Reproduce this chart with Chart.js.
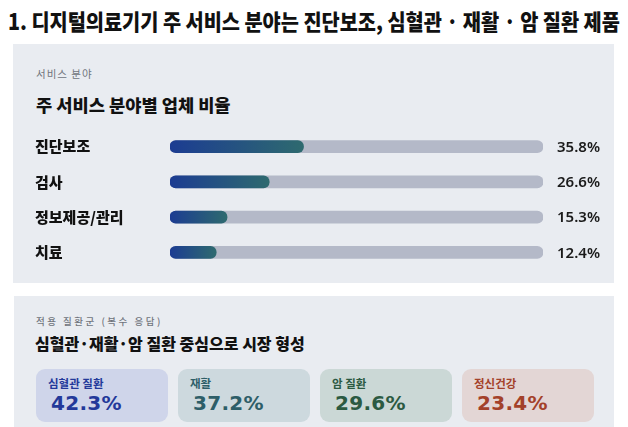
<!DOCTYPE html>
<html><head><meta charset="utf-8">
<script src="https://cdn.jsdelivr.net/npm/chart.js@4/dist/chart.umd.min.js"></script>
<style>
html,body{margin:0;padding:0;background:#fff;width:628px;height:427px;overflow:hidden;font-family:"Noto Sans CJK KR","Noto Sans",sans-serif;}
.abs{position:absolute;white-space:nowrap;}
#title{left:8px;top:6px;font-size:22px;font-weight:900;color:#111;line-height:28px;transform-origin:left center;}
.panel{position:absolute;background:#e9ecf1;}
#p1{left:13px;top:44px;width:601px;height:239px;}
#p2{left:14px;top:296px;width:600px;height:131px;}
.sub{font-size:10.5px;color:#70747c;letter-spacing:1px;}
.head{font-size:17px;font-weight:800;color:#111;transform-origin:left center;}
.card{position:absolute;top:369px;width:132px;height:53px;border-radius:9px;}
.card .lab{position:absolute;left:12px;top:6px;font-size:11.5px;font-weight:700;}
.card .val{position:absolute;left:15px;top:22px;font-family:"DejaVu Sans",sans-serif;font-size:20px;font-weight:700;letter-spacing:0.3px;}
#cv{position:absolute;left:0;top:129px;}
</style></head>
<body>
<div id="title" class="abs">1. 디지털의료기기 주 서비스 분야는 진단보조, 심혈관 · 재활 · 암 질환 제품</div>
<div class="panel" id="p1"></div>
<div class="panel" id="p2"></div>
<div class="abs sub" style="left:36px;top:66px;">서비스 분야</div>
<div class="abs head" id="h1" style="left:36px;top:92px;">주 서비스 분야별 업체 비율</div>
<div class="abs sub" style="left:36px;top:314px;letter-spacing:2.5px;font-size:9.5px;font-weight:500;">적용 질환군 (복수 응답)</div>
<div class="abs head" id="h2" style="left:35px;top:331px;font-size:16px;">심혈관·재활·암 질환 중심으로 시장 형성</div>
<div id="cards"></div>
<canvas id="cv" width="628" height="141"></canvas>
<script>
// Top chart data
const categories = ["진단보조", "검사", "정보제공/관리", "치료"];
const shares = [35.8, 26.6, 15.3, 12.4];
const trackMax = [100, 100, 100, 100];
// Bottom cards data
const diseaseGroups = ["심혈관 질환", "재활", "암 질환", "정신건강"];
const diseaseShares = [42.3, 37.2, 29.6, 23.4];

// text fitting
function fit(id, w){const el=document.getElementById(id);const s=w/el.scrollWidth;el.style.transform='scaleX('+s+')';}
fit('title',612); fit('h1',195); fit('h2',270);

// cards
const cardStyles=[
 {left:36,bg:'#cfd5ea',fg:'#23399a'},
 {left:178,bg:'#cdd9de',fg:'#2d5e68'},
 {left:320,bg:'#cbd8d6',fg:'#2b5a42'},
 {left:462,bg:'#e3d6d5',fg:'#a3412a'}];
const cw=document.getElementById('cards');
diseaseGroups.forEach((g,i)=>{
  const d=document.createElement('div');d.className='card';
  d.style.left=cardStyles[i].left+'px';d.style.background=cardStyles[i].bg;d.style.color=cardStyles[i].fg;
  d.innerHTML='<div class="lab"></div><div class="val"></div>';
  d.querySelector('.lab').textContent=g;
  d.querySelector('.val').textContent=diseaseShares[i].toFixed(1)+'%';
  cw.appendChild(d);
});

const valueLabels={id:'valueLabels',afterDatasetsDraw(chart){
  const {ctx,scales:{y},chartArea}=chart;
  ctx.save();ctx.font='600 15px "Noto Sans","Noto Sans CJK KR",sans-serif';ctx.fillStyle='#1a1a1a';
  ctx.textAlign='left';ctx.textBaseline='middle';
  shares.forEach((v,i)=>{ctx.fillText(v.toFixed(1)+'%',chartArea.right+14,y.getPixelForValue(i)+1);});
  ctx.restore();
}};

new Chart(document.getElementById('cv'),{
  type:'bar',
  data:{labels:categories,datasets:[
    {data:shares,barThickness:12,borderRadius:6,borderSkipped:false,grouped:false,
     backgroundColor(ctx){
       const c=ctx.chart;if(!c.chartArea)return '#1e3f8f';
       const x0=c.scales.x.getPixelForValue(0);const x1=c.scales.x.getPixelForValue(shares[ctx.dataIndex]);
       const g=c.ctx.createLinearGradient(x0,0,x1,0);g.addColorStop(0,'#1c3c92');g.addColorStop(1,'#2e6a6f');return g;}},
    {data:trackMax,barThickness:12,borderRadius:6,borderSkipped:false,grouped:false,backgroundColor:'#b4b9c8'}
  ]},
  options:{indexAxis:'y',responsive:false,animation:false,
    layout:{padding:{left:35,right:85,top:0,bottom:0}},
    plugins:{legend:{display:false},tooltip:{enabled:false}},
    scales:{
      x:{display:false,min:0,max:100},
      y:{grid:{display:false},border:{display:false},
         ticks:{crossAlign:'far',color:'#111',font:{family:'"Noto Sans CJK KR"',size:15,weight:900}},
         afterFit(s){s.width=135;s.paddingTop=0;s.paddingBottom=0;}}
    }},
  plugins:[valueLabels]
});
</script>
</body></html>
